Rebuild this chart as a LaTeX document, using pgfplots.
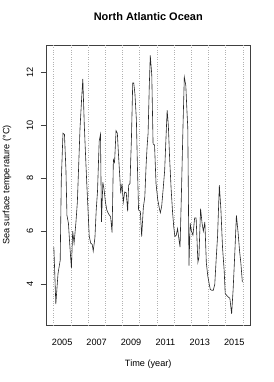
\documentclass[border=0pt]{standalone}
\usepackage{pgfplots}
\pgfplotsset{compat=1.18}
\usepackage{fontspec}
\setmainfont{Liberation Sans}
\begin{document}
\begin{tikzpicture}
\path[use as bounding box] (-46bp,-57bp) rectangle (228bp,325bp);
\begin{axis}[
  at={(0,0)}, anchor=south west,
  scale only axis, width=204.5bp, height=280bp,
  xmin=2004.06, xmax=2015.94, ymin=2.46, ymax=13.03,
  axis line style={black!75, line width=0.8bp},
  xtick={2005,2007,...,2015},
  ytick={4,6,8,10,12},
  tick align=outside,
  major tick length=5.5bp,
  xtick pos=bottom, ytick pos=left,
  xtick style={draw=none},
  ytick style={black!75, line width=0.8bp},
  /pgf/number format/assume math mode=true,
  /pgf/number format/1000 sep={},
  xticklabel style={font=\fontsize{9.2}{11}\selectfont, anchor=base, yshift=-14.5bp},
  yticklabel style={font=\fontsize{9.2}{11}\selectfont, rotate=90, anchor=center, yshift=10.5bp},
  extra x ticks={2004.5,2005.5,...,2015.5},
  extra x tick labels={},
  extra x tick style={grid=major, major grid style={dotted, black!30, line width=0.45bp}},
  title={North Atlantic Ocean},
  title style={at={(axis description cs:0.5,1)}, anchor=center, yshift=22.5bp, font=\fontsize{11}{13}\selectfont\bfseries},
  xlabel={Time (year)},
  xlabel style={at={(axis description cs:0.5,0)}, anchor=base, yshift=-41.6bp, font=\fontsize{9.2}{11}\selectfont},
  ylabel={Sea surface temperature (°C)},
  ylabel style={at={(axis description cs:0,0.5)}, anchor=center, rotate=0, yshift=39bp, font=\fontsize{9.2}{11}\selectfont},
]
\addplot[black!85, line width=0.6bp] table {
x y
2004.516 5.40
2004.631 3.25
2004.758 4.40
2004.885 4.90
2004.948 7.90
2005.046 9.70
2005.133 9.65
2005.219 8.30
2005.277 6.60
2005.363 6.30
2005.450 5.40
2005.536 4.60
2005.611 6.00
2005.692 5.55
2005.795 6.30
2005.882 7.10
2006.037 9.90
2006.130 11.00
2006.199 11.75
2006.285 10.00
2006.343 9.10
2006.429 7.80
2006.487 7.00
2006.573 5.80
2006.660 5.55
2006.746 5.50
2006.804 5.25
2006.902 5.75
2006.977 6.80
2007.052 7.50
2007.150 9.40
2007.225 9.65
2007.282 6.35
2007.363 7.85
2007.438 7.55
2007.513 7.10
2007.594 6.80
2007.697 6.65
2007.813 6.55
2007.899 5.95
2007.974 8.70
2008.043 8.60
2008.130 9.80
2008.205 9.70
2008.262 9.00
2008.343 8.10
2008.401 7.43
2008.476 7.80
2008.550 7.10
2008.631 7.48
2008.723 7.45
2008.804 6.75
2008.862 7.74
2008.937 7.80
2009.023 9.50
2009.098 11.60
2009.156 11.60
2009.225 11.20
2009.311 10.20
2009.369 8.50
2009.438 6.80
2009.542 6.75
2009.617 5.80
2009.715 6.90
2009.801 7.30
2009.876 8.50
2009.934 9.20
2009.991 9.70
2010.061 11.50
2010.118 12.64
2010.205 11.90
2010.280 9.30
2010.366 9.25
2010.452 7.80
2010.550 7.20
2010.648 6.85
2010.706 6.70
2010.781 6.95
2010.867 7.60
2010.954 8.30
2011.029 9.50
2011.098 10.57
2011.167 10.00
2011.242 8.75
2011.329 7.60
2011.415 6.70
2011.484 6.15
2011.548 5.80
2011.628 5.85
2011.703 6.10
2011.761 5.80
2011.847 5.40
2011.934 7.60
2012.020 10.00
2012.095 11.82
2012.182 11.50
2012.251 10.50
2012.297 9.90
2012.366 4.70
2012.435 6.30
2012.510 6.00
2012.597 5.85
2012.695 6.50
2012.781 6.50
2012.885 4.83
2012.942 5.00
2013.040 6.85
2013.127 6.30
2013.202 6.00
2013.288 6.35
2013.375 4.80
2013.461 4.30
2013.530 4.05
2013.605 3.80
2013.692 3.77
2013.778 3.77
2013.865 4.00
2013.951 5.00
2014.026 5.80
2014.130 7.74
2014.222 6.80
2014.314 5.40
2014.412 4.50
2014.470 3.65
2014.556 3.58
2014.643 3.52
2014.741 3.47
2014.844 2.88
2014.931 3.80
2015.017 5.00
2015.121 6.60
2015.219 5.95
2015.306 5.25
2015.380 4.80
2015.467 4.08
};
\end{axis}
\end{tikzpicture}
\end{document}
